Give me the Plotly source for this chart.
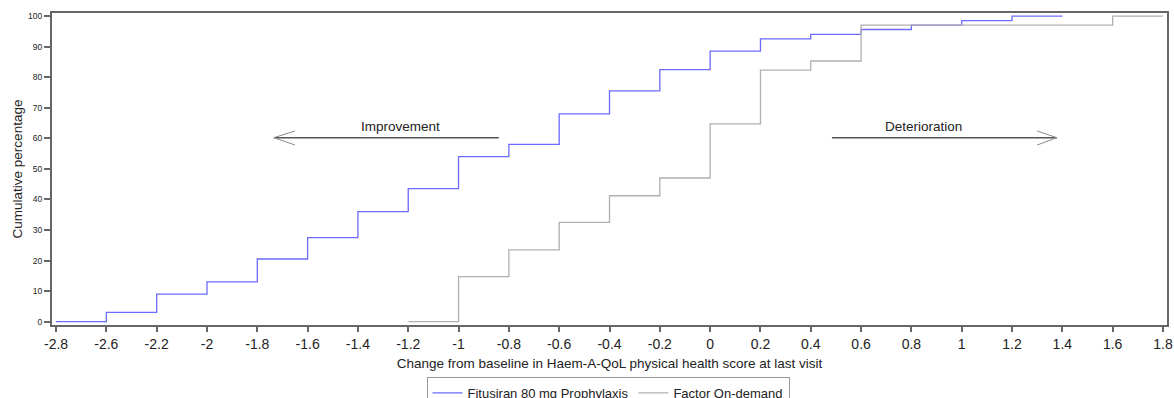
import plotly.graph_objects as go

# Discrete x-axis categories (note: -2.4 absent in the reference axis)
categories = ["-2.8", "-2.6", "-2.2", "-2", "-1.8", "-1.6", "-1.4", "-1.2", "-1",
              "-0.8", "-0.6", "-0.4", "-0.2", "0", "0.2", "0.4", "0.6", "0.8",
              "1", "1.2", "1.4", "1.6", "1.8"]

fitusiran_x = ["-2.8", "-2.6", "-2.2", "-2", "-1.8", "-1.6", "-1.4", "-1.2", "-1",
               "-0.8", "-0.6", "-0.4", "-0.2", "0", "0.2", "0.4", "0.6", "0.8",
               "1", "1.2", "1.4"]
fitusiran_y = [0, 3, 9, 13, 20.5, 27.5, 36, 43.5, 54, 58, 68, 75.5, 82.5, 88.5,
               92.5, 94, 95.6, 97, 98.5, 100, 100]

factor_x = ["-1.2", "-1", "-0.8", "-0.6", "-0.4", "-0.2", "0", "0.2", "0.4",
            "0.6", "1.6", "1.8"]
factor_y = [0, 14.7, 23.5, 32.5, 41.2, 47, 64.7, 82.3, 85.3, 97, 100, 100]

yticks = [0, 10, 20, 30, 40, 50, 60, 70, 80, 90, 100]

FONT = "Liberation Sans, Arial, sans-serif"
TXT = "#222222"

W, H = 1174, 398

fig = go.Figure()
fig.add_trace(go.Scatter(x=fitusiran_x, y=fitusiran_y, mode="lines",
                         line=dict(color="#6b6bff", width=1.3, shape="hv"),
                         name="Fitusiran 80 mg Prophylaxis"))
fig.add_trace(go.Scatter(x=factor_x, y=factor_y, mode="lines",
                         line=dict(color="#b0b0b0", width=1.3, shape="hv"),
                         name="Factor On-demand"))

shapes = []
# Improvement arrow (pointing left)
shapes.append(dict(type="line", xref="x", yref="y", x0=8.80, x1=4.33, y0=60.2, y1=60.2,
                   line=dict(color="#555555", width=1.6)))
shapes.append(dict(type="line", xref="x", yref="y", x0=4.33, x1=4.75, y0=60.2, y1=62.4,
                   line=dict(color="#8a8a8a", width=1)))
shapes.append(dict(type="line", xref="x", yref="y", x0=4.33, x1=4.75, y0=60.2, y1=57.8,
                   line=dict(color="#8a8a8a", width=1)))
# Deterioration arrow (pointing right)
shapes.append(dict(type="line", xref="x", yref="y", x0=15.42, x1=19.89, y0=60.2, y1=60.2,
                   line=dict(color="#555555", width=1.6)))
shapes.append(dict(type="line", xref="x", yref="y", x0=19.89, x1=19.50, y0=60.2, y1=62.4,
                   line=dict(color="#8a8a8a", width=1)))
shapes.append(dict(type="line", xref="x", yref="y", x0=19.89, x1=19.50, y0=60.2, y1=57.8,
                   line=dict(color="#8a8a8a", width=1)))

annotations = [
    dict(text="Improvement", x=6.84, y=63.8, xref="x", yref="y", showarrow=False,
         font=dict(family=FONT, size=13.5, color=TXT)),
    dict(text="Deterioration", x=17.25, y=63.8, xref="x", yref="y", showarrow=False,
         font=dict(family=FONT, size=13.5, color=TXT)),
]

fig.update_layout(
    width=W, height=H,
    margin=dict(l=52, r=7, t=13, b=73),
    paper_bgcolor="white", plot_bgcolor="white",
    font=dict(family=FONT, color=TXT),
    shapes=shapes, annotations=annotations,
    showlegend=True,
    legend=dict(orientation="h", x=608 / W, xanchor="center", xref="container",
                y=(H - 377) / H, yanchor="top", yref="container",
                bordercolor="#9a9a9a", borderwidth=1, bgcolor="white",
                font=dict(family=FONT, size=13, color=TXT),
                itemwidth=30, tracegroupgap=0),
)
fig.update_xaxes(type="category", categoryorder="array", categoryarray=categories,
                 tickvals=categories, ticktext=categories, automargin=False,
                 range=[-0.08, 22.08], showgrid=False, zeroline=False,
                 showline=True, linecolor="#666666", linewidth=2, mirror=True,
                 ticks="outside", ticklen=5, tickcolor="#666666", tickwidth=1.5,
                 tickfont=dict(family=FONT, size=14, color=TXT),
                 title=dict(text="Change from baseline in Haem-A-QoL physical health score at last visit",
                            font=dict(family=FONT, size=13.5, color=TXT), standoff=8))
fig.update_yaxes(range=[-1.1, 101], tickvals=yticks, showgrid=False, zeroline=False,
                 automargin=False,
                 showline=True, linecolor="#666666", linewidth=2, mirror=True,
                 ticks="outside", ticklen=6, tickcolor="#666666", tickwidth=1.5,
                 tickfont=dict(family=FONT, size=8.5, color=TXT),
                 title=dict(text="Cumulative percentage",
                            font=dict(family=FONT, size=13.5, color=TXT), standoff=2))

fig.write_html("out.html", config={"displayModeBar": False},
               post_script="document.body.style.margin='0';document.body.style.overflow='hidden';")
